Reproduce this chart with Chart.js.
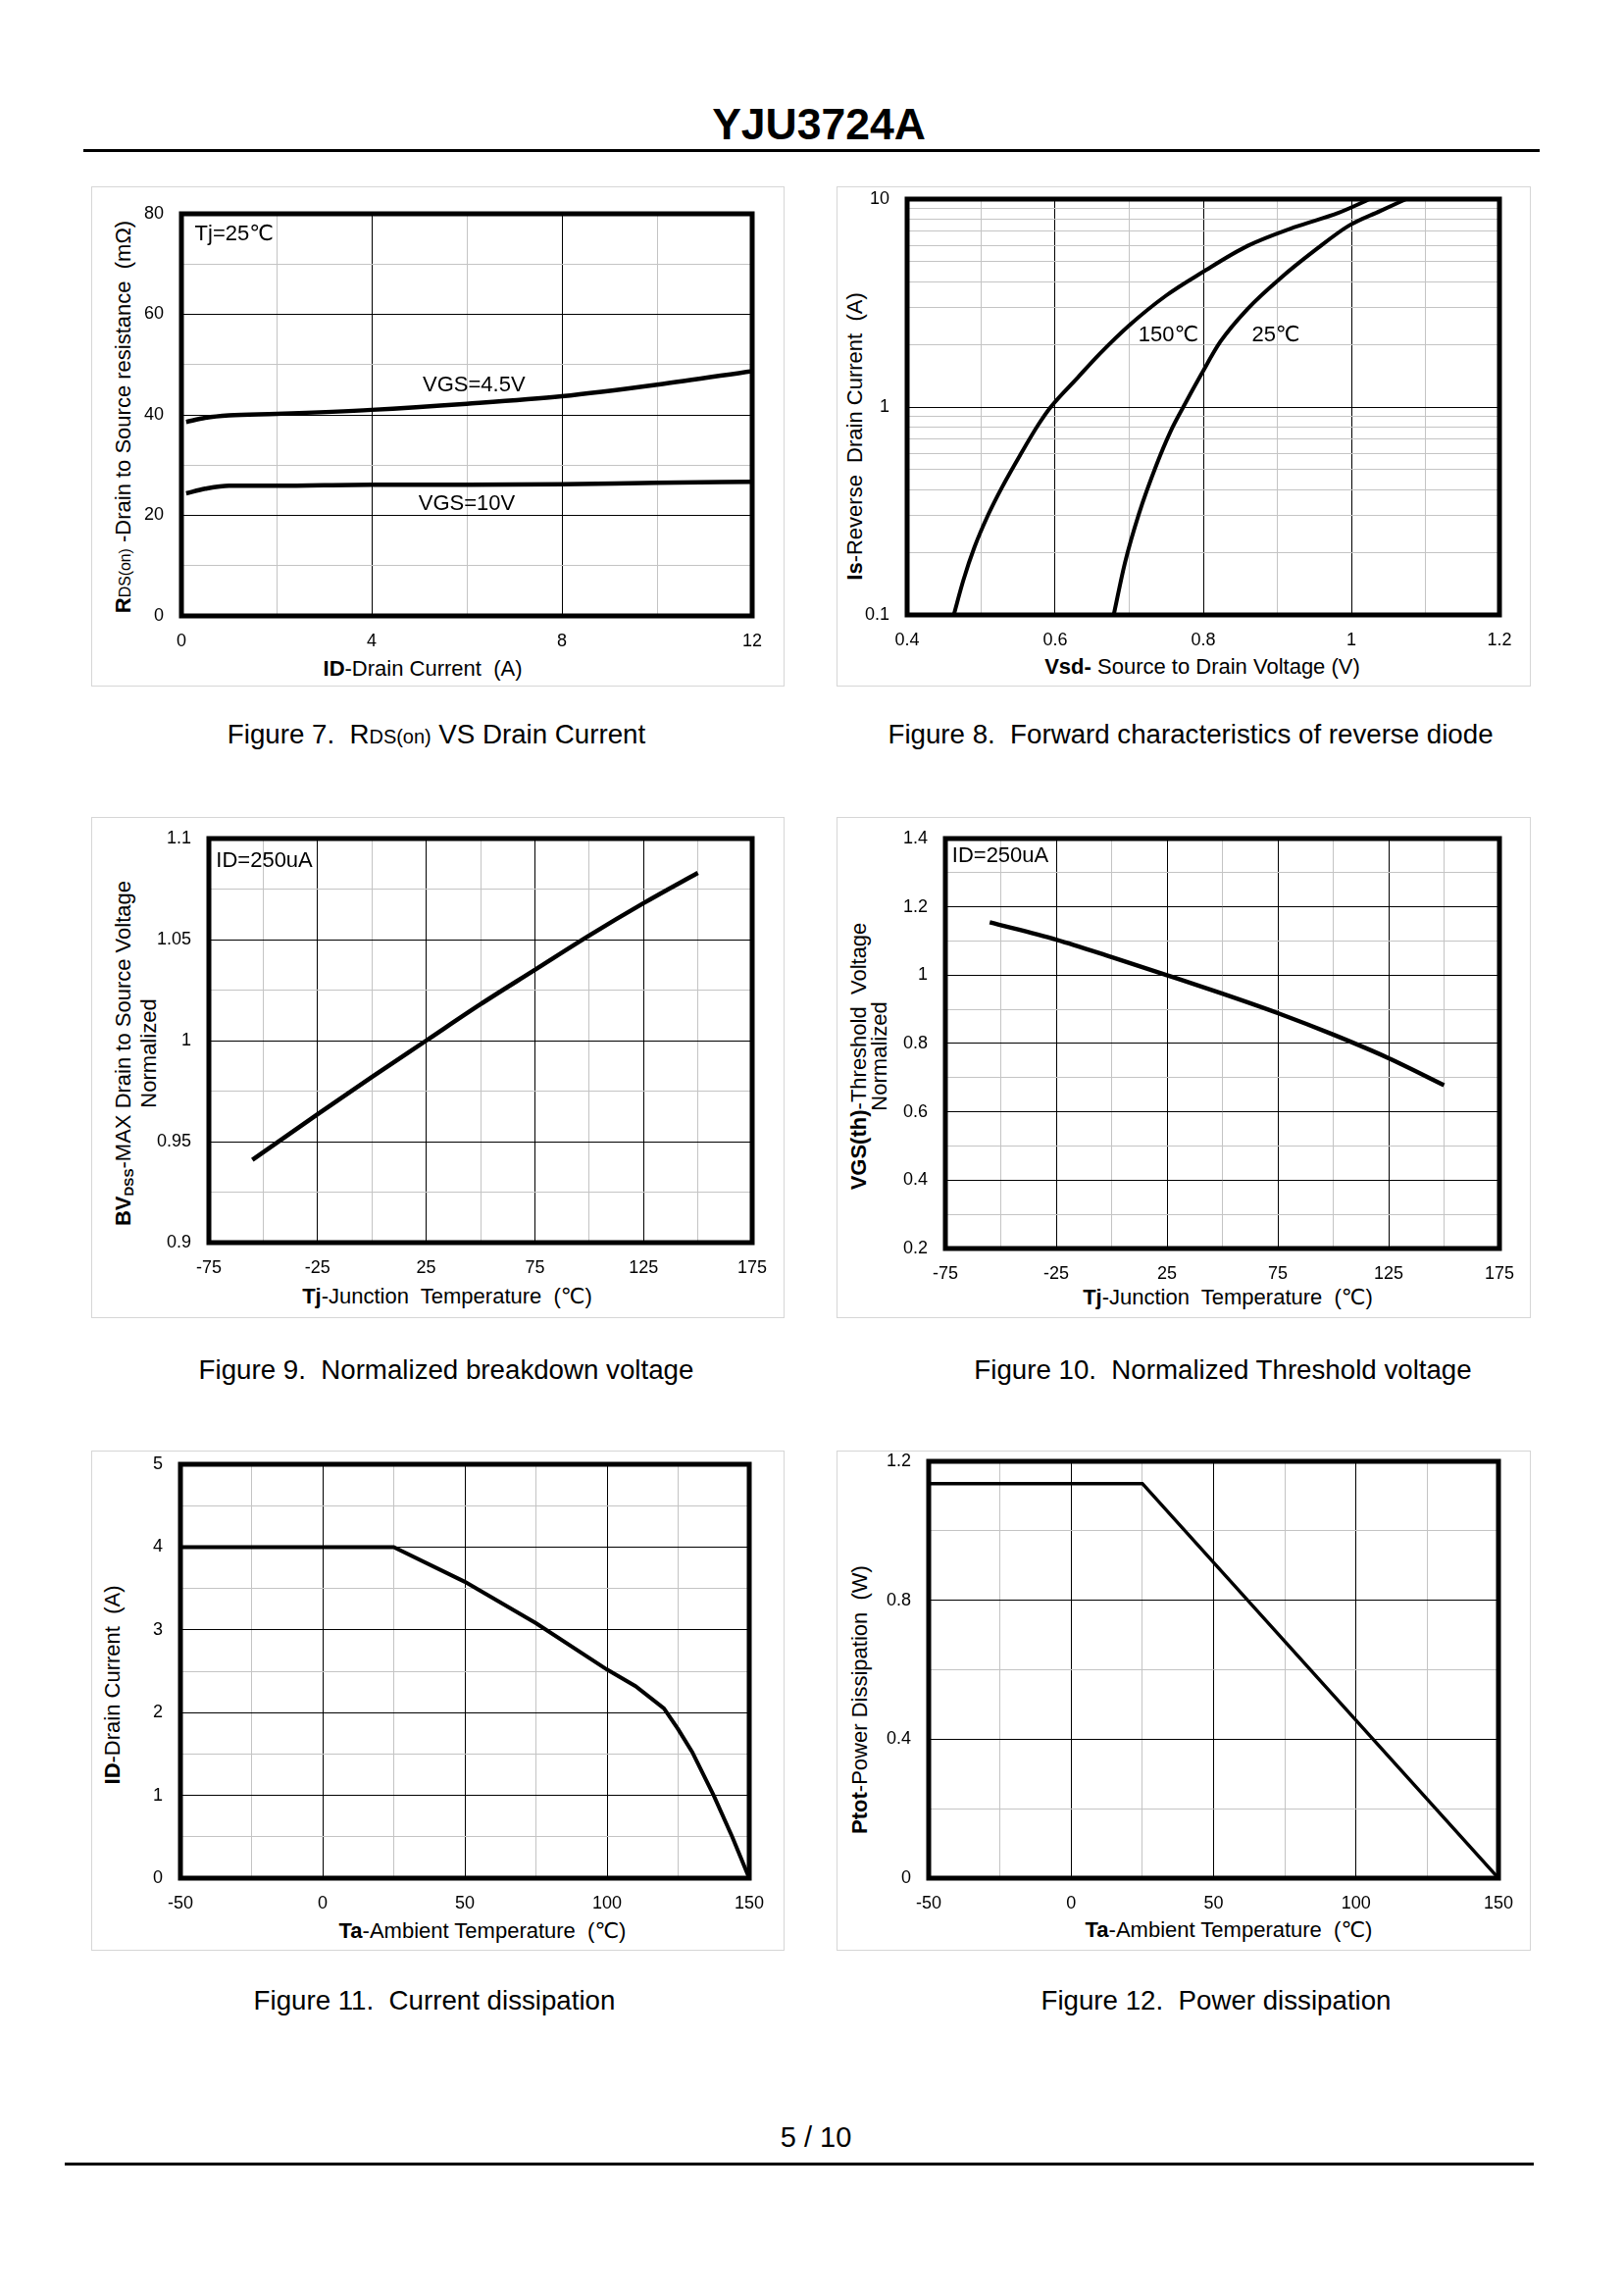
<!DOCTYPE html>
<html>
<head>
<meta charset="utf-8">
<script src="https://cdn.jsdelivr.net/npm/chart.js@4.4.1/dist/chart.umd.min.js"></script>
<style>
  body { margin: 0; background: #fff; }
  #page { position: relative; width: 1656px; height: 2339px; background: #fff; overflow: hidden;
          font-family: "Liberation Sans", Arial, "DejaVu Sans", sans-serif; color: #000; }
  .txt { position: absolute; white-space: pre; line-height: 1; transform: translate(-50%, -50%); }
  .rot { transform: translate(-50%, -50%) rotate(-90deg); text-align: center; }
  .rule { position: absolute; background: #000; }
  .panel { position: absolute; border: 1px solid #d6d6d6; box-sizing: border-box; }
  .panel canvas { position: absolute; left: -1px; top: -1px; }
  .cap { font-size: 27.7px; }
  .axt { font-size: 22px; }
  .sm { font-size: 0.72em; }
  .sb { font-size: 0.62em; position: relative; top: 0.25em; font-weight: bold; }
</style>
</head>
<body>
<div id="page">
  <div class="txt" style="left:835px; top:127px; font-size:44.5px; font-weight:bold;">YJU3724A</div>
  <div class="rule" style="left:85px; top:152px; width:1485px; height:3px;"></div>

  <!-- didascalie -->
  <div class="txt cap" style="left:445px; top:749px;">Figure 7.  R<span class="sm">DS(on)</span> VS Drain Current</div>
  <div class="txt cap" style="left:1214px; top:749px;">Figure 8.  Forward characteristics of reverse diode</div>
  <div class="txt cap" style="left:455px; top:1397px;">Figure 9.  Normalized breakdown voltage</div>
  <div class="txt cap" style="left:1247px; top:1397px;">Figure 10.  Normalized Threshold voltage</div>
  <div class="txt cap" style="left:443px; top:2040px;">Figure 11.  Current dissipation</div>
  <div class="txt cap" style="left:1240px; top:2040px;">Figure 12.  Power dissipation</div>

  <!-- titoli degli assi -->
  <div class="txt axt rot" style="left:126px; top:425px;"><b>R</b><span class="sm">DS(on)</span> -Drain to Source resistance  (mΩ)</div>
  <div class="txt axt" style="left:431px; top:682px;"><b>ID</b>-Drain Current  (A)</div>
  <div class="txt axt rot" style="left:872px; top:445px;"><b>Is</b>-Reverse  Drain Current  (A)</div>
  <div class="txt axt" style="left:1226px; top:680px;"><b>Vsd-</b> Source to Drain Voltage (V)</div>
  <div class="txt axt rot" style="left:138px; top:1074px; line-height:23px;"><b>BV</b><span class="sb">DSS</span>-MAX Drain to Source Voltage
Normalized</div>
  <div class="txt axt" style="left:456px; top:1322px;"><b>Tj</b>-Junction  Temperature  (℃)</div>
  <div class="txt axt rot" style="left:886px; top:1077px; line-height:21px;"><b>VGS(th)</b>-Threshold  Voltage
Normalized</div>
  <div class="txt axt" style="left:1252px; top:1323px;"><b>Tj</b>-Junction  Temperature  (℃)</div>
  <div class="txt axt rot" style="left:115px; top:1718px;"><b>ID</b>-Drain Current  (A)</div>
  <div class="txt axt" style="left:492px; top:1969px;"><b>Ta</b>-Ambient Temperature  (℃)</div>
  <div class="txt axt rot" style="left:877px; top:1733px;"><b>Ptot</b>-Power Dissipation  (W)</div>
  <div class="txt axt" style="left:1253px; top:1968px;"><b>Ta</b>-Ambient Temperature  (℃)</div>

  <div class="txt" style="left:832px; top:2179px; font-size:29px;">5 / 10</div>
  <div class="rule" style="left:66px; top:2205px; width:1498px; height:3px;"></div>
</div>

<script>
// Figura 7 - RDS(on) vs corrente di drain
const fig7Current = [0.1, 0.5, 1, 2, 4, 6, 8, 10, 12];
const fig7Rds45 = [38.6, 39.4, 39.9, 40.2, 41.0, 42.2, 43.7, 46.0, 48.7];
const fig7Rds10 = [24.4, 25.3, 25.9, 25.9, 26.1, 26.1, 26.2, 26.5, 26.7];
const fig7XTicks = [0, 2, 4, 6, 8, 10, 12];
const fig7XLabels = [0, 4, 8, 12];
const fig7YTicks = [0, 10, 20, 30, 40, 50, 60, 70, 80];
const fig7YLabels = [0, 20, 40, 60, 80];

// Figura 8 - diodo inverso (scala log)
const fig8V150 = [0.463, 0.476, 0.491, 0.510, 0.528, 0.553, 0.577, 0.594, 0.630, 0.660, 0.700, 0.750, 0.799, 0.860, 0.922, 0.983, 1.025];
const fig8I150 = [0.1, 0.147, 0.212, 0.306, 0.41, 0.59, 0.82, 1.0, 1.38, 1.80, 2.47, 3.44, 4.45, 5.96, 7.3, 8.6, 10];
const fig8V25 = [0.679, 0.694, 0.713, 0.737, 0.756, 0.773, 0.797, 0.823, 0.860, 0.903, 0.953, 0.996, 1.039, 1.074];
const fig8I25 = [0.1, 0.177, 0.306, 0.53, 0.766, 1.0, 1.43, 2.06, 2.97, 4.13, 5.75, 7.43, 8.77, 10];
const fig8XTicks = [0.4, 0.5, 0.6, 0.7, 0.8, 0.9, 1.0, 1.1, 1.2];
const fig8XLabels = [0.4, 0.6, 0.8, 1, 1.2];
const fig8YTicks = [0.1, 0.2, 0.3, 0.4, 0.5, 0.6, 0.7, 0.8, 0.9, 1, 2, 3, 4, 5, 6, 7, 8, 9, 10];
const fig8YLabels = [0.1, 1, 10];

// Figura 9 - BVDSS normalizzata
const fig9Temp = [-55, -25, 0, 25, 50, 75, 100, 125, 150];
const fig9BV = [0.941, 0.9635, 0.982, 1.0, 1.018, 1.035, 1.052, 1.068, 1.083];
const tjTicks = [-75, -50, -25, 0, 25, 50, 75, 100, 125, 150, 175];
const tjLabels = [-75, -25, 25, 75, 125, 175];
const fig9YTicks = [0.9, 0.925, 0.95, 0.975, 1.0, 1.025, 1.05, 1.075, 1.1];
const fig9YLabels = [0.9, 0.95, 1, 1.05, 1.1];

// Figura 10 - soglia normalizzata
const fig10Temp = [-55, -25, 0, 25, 50, 75, 100, 125, 150];
const fig10Vth = [1.155, 1.104, 1.053, 1.0, 0.946, 0.889, 0.826, 0.757, 0.678];
const fig10YTicks = [0.2, 0.3, 0.4, 0.5, 0.6, 0.7, 0.8, 0.9, 1.0, 1.1, 1.2, 1.3, 1.4];
const fig10YLabels = [0.2, 0.4, 0.6, 0.8, 1, 1.2, 1.4];

// Figure 11 e 12 - derating
const fig11Temp = [-50, 25, 50, 75, 100, 110, 120, 125, 130, 137.5, 144, 150];
const fig11Id = [4, 4, 3.58, 3.08, 2.52, 2.32, 2.05, 1.8, 1.52, 1.0, 0.5, 0];
const fig12Temp = [-50, 25, 150];
const fig12Ptot = [1.136, 1.136, 0];
const taTicks = [-50, -25, 0, 25, 50, 75, 100, 125, 150];
const taLabels = [-50, 0, 50, 100, 150];
const fig11YTicks = [0, 0.5, 1, 1.5, 2, 2.5, 3, 3.5, 4, 4.5, 5];
const fig11YLabels = [0, 1, 2, 3, 4, 5];
const fig12YTicks = [0, 0.2, 0.4, 0.6, 0.8, 1.0, 1.2];
const fig12YLabels = [0, 0.4, 0.8, 1.2];

const FONT = '"Liberation Sans", Arial, "DejaVu Sans", sans-serif';

// riquadro grigio e area del grafico (pixel pagina)
const boxes = {
    fig7:  { panel: [93, 190, 707, 510],  plot: [185, 218, 767, 628] },
    fig8:  { panel: [853, 190, 708, 510], plot: [925, 203, 1529, 627] },
    fig9:  { panel: [93, 833, 707, 511],  plot: [213, 855, 767, 1267] },
    fig10: { panel: [853, 833, 708, 511], plot: [964, 855, 1529, 1273] },
    fig11: { panel: [93, 1479, 707, 510], plot: [184, 1493, 764, 1915] },
    fig12: { panel: [853, 1479, 708, 510], plot: [947, 1490, 1528, 1915] }
};

const has = (list, v) => list.some(l => Math.abs(l - v) < 1e-6);
const fmt = v => String(+Number(v).toFixed(3));
const pts = (xs, ys) => xs.map((x, i) => ({ x: x, y: ys[i] }));

// bordo nero spesso attorno all'area
const framePlugin = {
    id: 'frame',
    afterDatasetsDraw(chart) {
        const a = chart.chartArea, ctx = chart.ctx;
        ctx.save();
        ctx.lineWidth = 5;
        ctx.strokeStyle = '#000';
        ctx.strokeRect(a.left, a.top, a.right - a.left, a.bottom - a.top);
        ctx.restore();
    }
};

// testi dentro il grafico, posizionati in coordinate dati
const notesPlugin = {
    id: 'notes',
    afterDraw(chart, args, opts) {
        const ctx = chart.ctx;
        ctx.save();
        ctx.font = '22px ' + FONT;
        ctx.fillStyle = '#000';
        ctx.textBaseline = 'middle';
        (opts.items || []).forEach(n => {
            ctx.textAlign = n.align || 'center';
            ctx.fillText(n.text, chart.scales.x.getPixelForValue(n.x), chart.scales.y.getPixelForValue(n.y));
        });
        ctx.restore();
    }
};

function axis(type, min, max, ticks, labels, pad) {
    return {
        type: type, min: min, max: max,
        afterBuildTicks: s => { s.ticks = ticks.map(v => ({ value: v })); },
        ticks: {
            autoSkip: false, maxRotation: 0, padding: pad, color: '#000',
            font: { family: FONT, size: 18 },
            callback: v => has(labels, v) ? fmt(v) : ''
        },
        grid: {
            drawTicks: false, lineWidth: 1,
            color: c => (c.tick && has(labels, c.tick.value)) ? '#000' : '#c4c4c4'
        },
        border: { display: false }
    };
}

// niente padding automatico: l'area del grafico la decidono i box
function noPad(s) {
    s.paddingTop = 0; s.paddingBottom = 0; s.paddingLeft = 0; s.paddingRight = 0;
}

function makeChart(box, xAxis, yAxis, datasets, notes) {
    const [px, py, pw, ph] = box.panel;
    const [x0, y0, x1, y1] = box.plot;
    const div = document.createElement('div');
    div.className = 'panel';
    div.style.cssText = `left:${px}px;top:${py}px;width:${pw}px;height:${ph}px;`;
    const cv = document.createElement('canvas');
    cv.width = pw; cv.height = ph;
    cv.style.width = pw + 'px'; cv.style.height = ph + 'px';
    div.appendChild(cv);
    document.getElementById('page').appendChild(div);

    xAxis.afterFit = s => { s.height = py + ph - y1; noPad(s); };
    yAxis.afterFit = s => { s.width = x0 - px; noPad(s); };

    new Chart(cv, {
        type: 'line',
        data: { datasets: datasets },
        options: {
            responsive: false, animation: false, devicePixelRatio: 1,
            layout: { padding: { top: y0 - py, right: px + pw - x1, left: 0, bottom: 0 } },
            scales: { x: xAxis, y: yAxis },
            elements: { point: { radius: 0 } },
            plugins: { legend: { display: false }, tooltip: { enabled: false }, notes: { items: notes } }
        },
        plugins: [framePlugin, notesPlugin]
    });
}

function curve(xs, ys, width, smooth) {
    return {
        data: pts(xs, ys), borderColor: '#000', borderWidth: width, fill: false,
        cubicInterpolationMode: smooth ? 'monotone' : 'default', tension: 0
    };
}

makeChart(boxes.fig7,
    axis('linear', 0, 12, fig7XTicks, fig7XLabels, 15),
    axis('linear', 0, 80, fig7YTicks, fig7YLabels, 18),
    [curve(fig7Current, fig7Rds45, 4.5, true), curve(fig7Current, fig7Rds10, 4.5, true)],
    [{ text: 'Tj=25℃', x: 0.28, y: 76, align: 'left' },
     { text: 'VGS=4.5V', x: 6.15, y: 45.8 },
     { text: 'VGS=10V', x: 6.0, y: 22.3 }]);

makeChart(boxes.fig8,
    axis('linear', 0.4, 1.2, fig8XTicks, fig8XLabels, 15),
    axis('logarithmic', 0.1, 10, fig8YTicks, fig8YLabels, 18),
    [curve(fig8V150, fig8I150, 4, true), curve(fig8V25, fig8I25, 4, true)],
    [{ text: '150℃', x: 0.753, y: 2.2 },
     { text: '25℃', x: 0.898, y: 2.2 }]);

makeChart(boxes.fig9,
    axis('linear', -75, 175, tjTicks, tjLabels, 15),
    axis('linear', 0.9, 1.1, fig9YTicks, fig9YLabels, 18),
    [curve(fig9Temp, fig9BV, 4.5, true)],
    [{ text: 'ID=250uA', x: -71.7, y: 1.089, align: 'left' }]);

makeChart(boxes.fig10,
    axis('linear', -75, 175, tjTicks, tjLabels, 15),
    axis('linear', 0.2, 1.4, fig10YTicks, fig10YLabels, 18),
    [curve(fig10Temp, fig10Vth, 4.5, true)],
    [{ text: 'ID=250uA', x: -72, y: 1.348, align: 'left' }]);

makeChart(boxes.fig11,
    axis('linear', -50, 150, taTicks, taLabels, 15),
    axis('linear', 0, 5, fig11YTicks, fig11YLabels, 18),
    [curve(fig11Temp, fig11Id, 4, false)],
    []);

makeChart(boxes.fig12,
    axis('linear', -50, 150, taTicks, taLabels, 15),
    axis('linear', 0, 1.2, fig12YTicks, fig12YLabels, 18),
    [curve(fig12Temp, fig12Ptot, 3.5, false)],
    []);
</script>
</body>
</html>
